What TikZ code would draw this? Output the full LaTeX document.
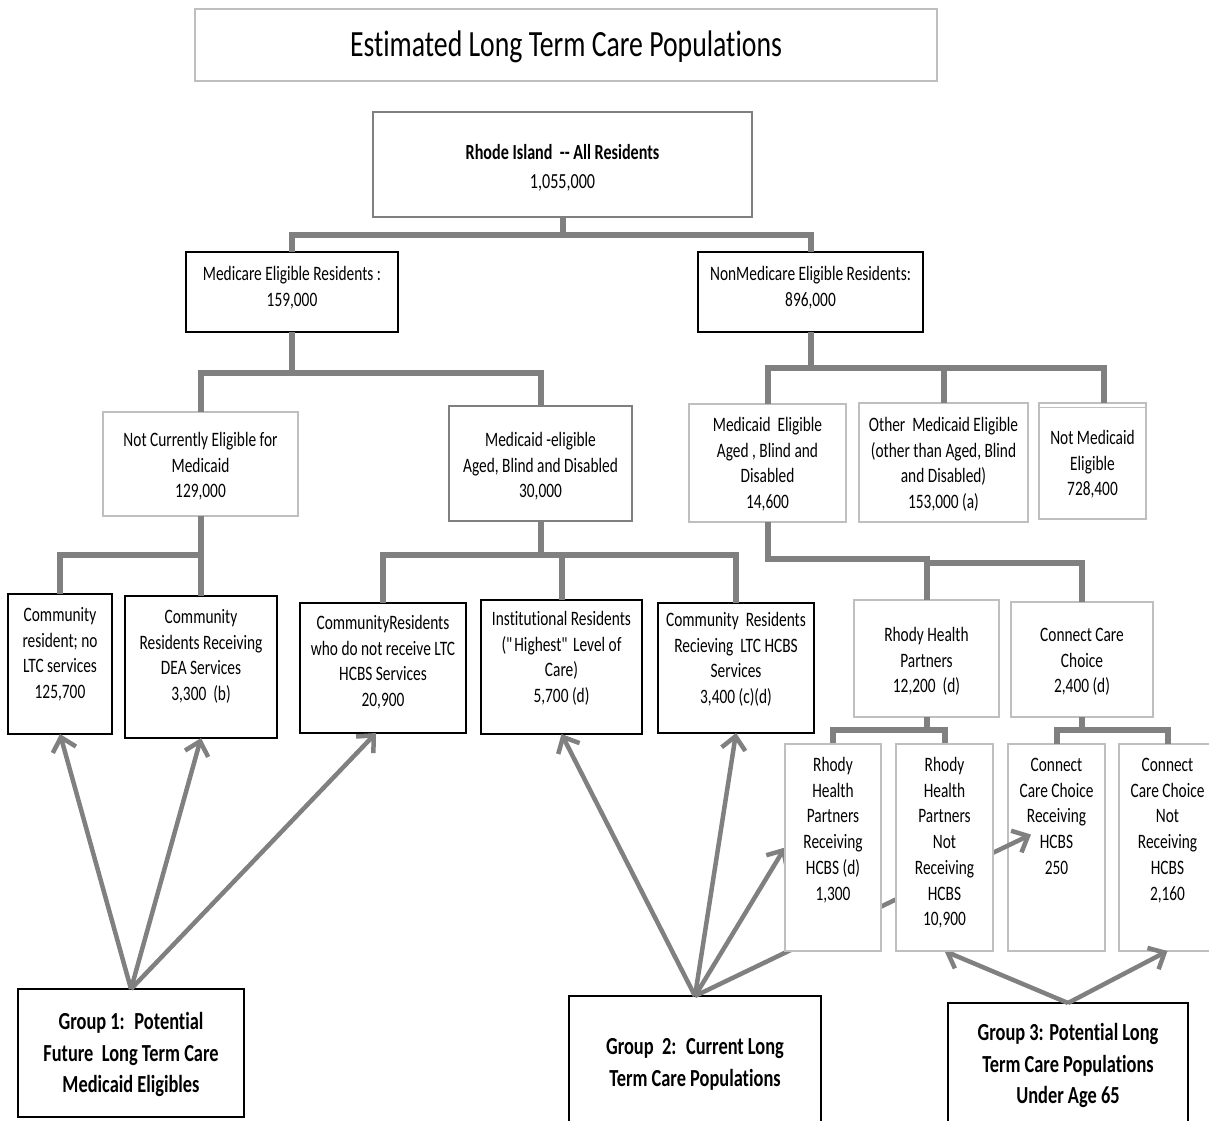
\documentclass[tikz,border=0pt]{standalone}
\usepackage{fontspec}
\setmainfont{Carlito}[FakeStretch=0.75, Ligatures={NoCommon}]
\usetikzlibrary{arrows.meta}
\pgfdeclarelayer{front}
\pgfsetlayers{main,front}
\definecolor{conngray}{HTML}{808080}
\definecolor{lightbd}{HTML}{BFBFBF}
\definecolor{midbd}{HTML}{7F7F7F}
\newcommand{\bxt}[4]{\parbox[c][#2pt][t]{#1pt}{\centering\vspace*{#3pt}\strut #4\par}}
\begin{document}
\begin{tikzpicture}[x=1pt,y=-1pt,
  every node/.style={inner sep=0pt, outer sep=0pt, fill=white, line width=2.5pt},
  blk/.style={draw=black},
  lgt/.style={draw=lightbd},
  mid/.style={draw=midbd},
  tx/.style={font=\fontsize{20.5}{25.7}\selectfont},
  gf/.style={font=\fontsize{24.5}{31.5}\selectfont\bfseries},
  conn/.style={draw=conngray, line width=6pt},
  arr/.style={draw=conngray, line width=4.5pt, -{Straight Barb[length=13pt,width=24pt]}}
]
\useasboundingbox (0,0) rectangle (1209,1120);

% title and tree
\node[lgt, font=\fontsize{37}{44}\selectfont] (title) at (566,45) {\bxt{742}{72}{16.8}{Estimated Long Term Care Populations}};
\node[mid, font=\fontsize{21.5}{29}\selectfont] (root) at (562.5,164.5) {\bxt{379}{105}{27.5}{\textbf{Rhode Island\ \ {-}{-} All Residents}\\1,055,000}};
\node[blk,tx] (medicare) at (292,292) {\bxt{212}{80}{10.5}{Medicare Eligible Residents :\\159,000}};
\node[blk,tx] (nonmed) at (810.5,292) {\bxt{225}{80}{10.5}{NonMedicare Eligible Residents:\\896,000}};
\node[lgt,tx] (notcur) at (200.5,464) {\bxt{195}{104}{16.5}{Not Currently Eligible for\\Medicaid\\129,000}};
\node[mid,tx] (abdl) at (540.5,463.5) {\bxt{183}{115}{22.5}{Medicaid -eligible\\Aged, Blind and Disabled\\30,000}};
\node[lgt,tx] (abdr) at (767.5,463) {\bxt{157}{118}{9.5}{Medicaid~ Eligible\\Aged , Blind and\\Disabled\\14,600}};
\node[lgt,tx] (other) at (943.5,462.5) {\bxt{169}{119}{10.5}{Other~ Medicaid Eligible\\(other than Aged, Blind\\and Disabled)\\153,000 (a)}};
\node[lgt,tx] (notmed) at (1092.5,461) {\bxt{107}{116}{23.5}{Not Medicaid\\Eligible\\728,400}};
\draw[lightbd, line width=1.5pt] ([yshift=-4.5pt]notmed.north west) -- ([yshift=-4.5pt]notmed.north east);

\node[blk,tx] (cr1) at (60,664) {\bxt{104}{140}{9.5}{Community\\resident; no\\LTC services\\125,700}};
\node[blk,tx] (cr2) at (201,667) {\bxt{152}{142}{9.5}{Community\\Residents Receiving\\DEA Services\\3,300~ (b)}};
\node[blk,tx] (cr3) at (383,668) {\bxt{166}{130}{8.5}{CommunityResidents\\who do not receive LTC\\HCBS Services\\20,900}};
\node[blk,tx] (inst) at (561.5,667) {\bxt{161}{134}{7.5}{Institutional Residents\\(\textquotedbl Highest\textquotedbl{} Level of\\Care)\\5,700 (d)}};
\node[blk,tx] (cr5) at (736,668) {\bxt{156}{130}{5.5}{Community~ Residents\\Recieving~ LTC HCBS\\Services\\3,400 (c)(d)}};

\node[lgt,tx] (rhp) at (926.5,658.5) {\bxt{145}{117}{23.5}{Rhody Health\\Partners\\12,200~ (d)}};
\node[lgt,tx] (ccc) at (1082,659.5) {\bxt{142}{115}{21.5}{Connect Care\\Choice\\2,400 (d)}};

\node[lgt,tx] (bC) at (1056.5,847.5) {\bxt{97}{207}{9.5}{Connect\\Care Choice\\Receiving\\HCBS\\250}};
\node[lgt,tx] (bD) at (1167.5,847.5) {\bxt{97}{207}{9.5}{Connect\\Care Choice\\Not\\Receiving\\HCBS\\2,160}};
\begin{pgfonlayer}{front}
\node[lgt,tx] (bA) at (833,847.5) {\bxt{96}{207}{9.5}{Rhody\\Health\\Partners\\Receiving\\HCBS (d)\\1,300}};
\node[lgt,tx] (bB) at (944.5,847.5) {\bxt{97}{207}{9.5}{Rhody\\Health\\Partners\\Not\\Receiving\\HCBS\\10,900}};
\end{pgfonlayer}

\node[blk,gf] (g1) at (131,1053) {\bxt{226}{128}{18.7}{Group 1:~ Potential\\Future~ Long Term Care\\Medicaid Eligibles}};
\node[blk,gf] (g2) at (695,1060) {\bxt{252}{128}{36.7}{Group~ 2:~ Current Long\\Term Care Populations}};
\node[blk,gf] (g3) at (1068,1067) {\bxt{240}{128}{15.7}{Group 3: Potential Long\\Term Care Populations\\Under Age 65}};

% connectors
\draw[conn] (root.south) -- ++(0,18) coordinate (r1);
\draw[conn] (medicare.north) |- (r1) -| (nonmed.north);
\draw[conn] (medicare.south) -- ++(0,41) coordinate (m1);
\draw[conn] (notcur.north) |- (m1) -| (abdl.north);
\draw[conn] (nonmed.south) -- ++(0,36) coordinate (n1);
\draw[conn] (abdr.north) |- (n1) -| ([xshift=11.5pt]notmed.north);
\draw[conn] (other.north) -- (other.north |- n1);
\draw[conn] (notcur.south) -- ++(0,39) coordinate (nc1);
\draw[conn] (cr1.north) |- (nc1) -| (cr2.north);
\draw[conn] (abdl.south) -- ++(0,34) coordinate (a1);
\draw[conn] (cr3.north) |- (a1) -| (cr5.north);
\draw[conn] (inst.north) -- (inst.north |- a1);
\draw[conn] (abdr.south) -- ++(0,37) -| (rhp.north);
\draw[conn] (rhp.north) ++(0,-37) -| (ccc.north);
\draw[conn] (rhp.south) -- ++(0,13) coordinate (rp1);
\draw[conn] (bA.north) |- (rp1) -| (bB.north);
\draw[conn] (ccc.south) -- ++(0,13) coordinate (cp1);
\draw[conn] (bC.north) |- (cp1) -| (bD.north);

% arrows
\draw[arr] (g1.north) -- (cr1.south);
\draw[arr] (g1.north) -- (cr2.south);
\draw[arr] (g1.north) -- ([xshift=-7pt]cr3.south);
\draw[arr] (g2.north) -- (inst.south);
\draw[arr] (g2.north) -- (cr5.south);
\draw[arr] (g2.north) -- (bA.west);
\draw[arr] (g2.north) -- ([xshift=-25.5pt,yshift=13pt]bC.center);
\draw[arr] (g3.north) -- (bB.south);
\draw[arr] (g3.north) -- (bD.south);
\end{tikzpicture}
\end{document}
